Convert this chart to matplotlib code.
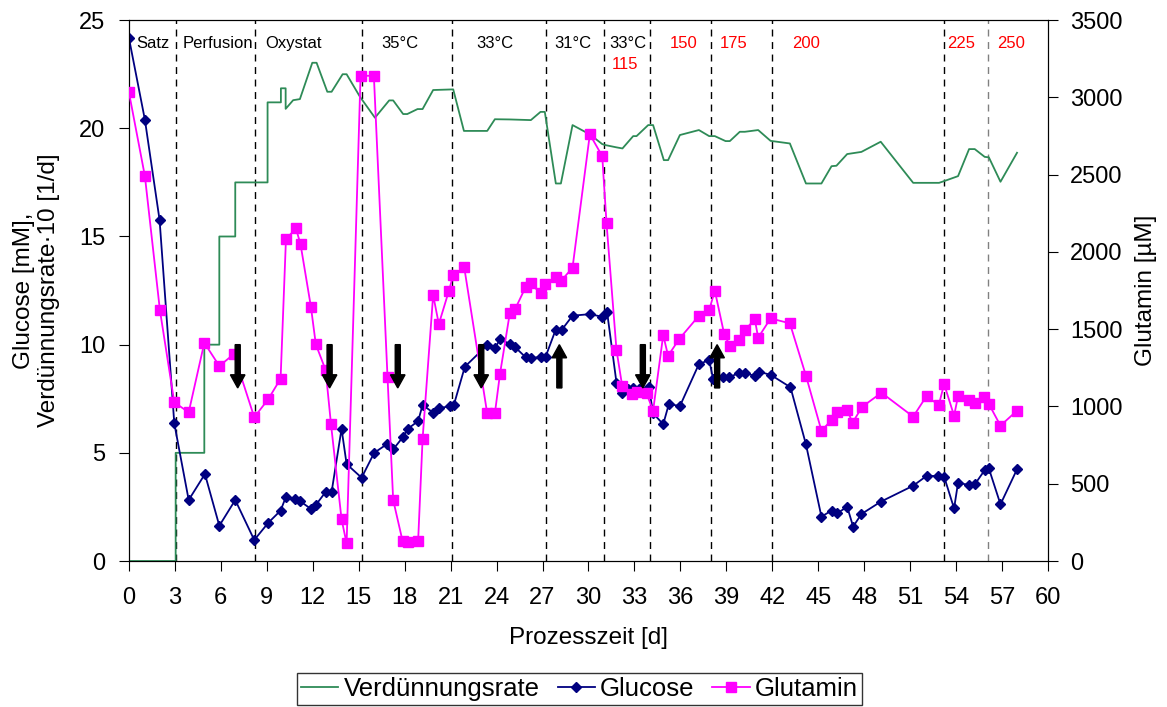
import matplotlib.pyplot as plt

plt.rcParams['font.family'] = ['Liberation Sans', 'DejaVu Sans']

# Verdünnungsrate * 10 [1/d] (left axis), stepwise at the start
rate_t = [0, 3.05, 3.05, 4.92, 4.92, 5.9, 5.9, 6.94, 6.94, 9.05, 9.05, 9.92, 9.92, 10.23, 10.23,
          10.72, 11.16, 11.97, 12.25, 12.95, 13.23, 13.95, 14.21, 15.08, 16.06, 16.99, 17.25,
          17.9, 18.17, 18.84, 19.17, 19.86, 21.17, 21.87, 23.39, 23.89, 24.87, 26.24, 26.87,
          27.15, 27.87, 28.2, 28.96, 30.09, 30.9, 31.14, 31.83, 32.22, 32.92, 33.14, 33.9,
          34.22, 34.92, 35.2, 35.97, 37.21, 37.88, 38.25, 38.95, 39.23, 39.88, 40.21, 41.08,
          41.89, 43.15, 44.2, 45.21, 45.87, 46.19, 46.89, 47.82, 49.08, 51.2, 52.89, 53.22,
          54.13, 54.85, 55.22, 55.87, 56.14, 56.9, 57.98]
rate = [0, 0, 5.0, 5.0, 10.0, 10.0, 15.0, 15.0, 17.5, 17.5, 21.2, 21.2, 21.85, 21.85, 20.9,
        21.3, 21.35, 23.03, 23.03, 21.69, 21.69, 22.5, 22.5, 21.46, 20.49, 21.29, 21.29,
        20.66, 20.66, 20.89, 20.89, 21.77, 21.8, 19.88, 19.88, 20.42, 20.41, 20.38, 20.76,
        20.76, 17.45, 17.45, 20.15, 19.72, 19.27, 19.22, 19.12, 19.07, 19.64, 19.64, 20.15,
        20.15, 18.53, 18.53, 19.69, 19.92, 19.64, 19.64, 19.41, 19.41, 19.84, 19.84, 19.92,
        19.42, 19.3, 17.45, 17.45, 18.25, 18.27, 18.81, 18.91, 19.38, 17.48, 17.48, 17.56,
        17.79, 19.04, 19.04, 18.68, 18.66, 17.53, 18.87]

# Glucose [mM] (left axis)
glc_t = [0, 1.04, 2.0, 2.96, 3.9, 4.96, 5.9, 6.94, 8.18, 9.1, 9.9, 10.25, 10.84, 11.16, 11.86,
         12.2, 12.84, 13.23, 13.88, 14.21, 15.19, 16.01, 16.82, 17.25, 17.9, 18.19, 18.88,
         19.17, 19.86, 20.25, 20.95, 21.21, 21.93, 23.39, 23.89, 24.22, 24.87, 25.2, 25.91,
         26.24, 26.89, 27.2, 27.85, 28.24, 28.96, 30.09, 30.9, 31.22, 31.83, 32.22, 32.59,
         32.92, 33.31, 33.94, 34.22, 34.88, 35.25, 35.97, 37.21, 37.88, 38.14, 38.79, 39.18,
         39.84, 40.21, 40.86, 41.14, 41.91, 43.19, 44.2, 45.21, 45.87, 46.24, 46.89, 47.28,
         47.82, 49.08, 51.2, 52.07, 52.83, 53.22, 53.87, 54.13, 54.85, 55.22, 55.87, 56.14,
         56.9, 57.98]
glc = [24.17, 20.4, 15.76, 6.36, 2.82, 4.02, 1.63, 2.82, 0.97, 1.77, 2.33, 2.97, 2.87, 2.77,
       2.42, 2.59, 3.19, 3.19, 6.11, 4.48, 3.85, 5.0, 5.39, 5.16, 5.74, 6.1, 6.47, 7.21, 6.86,
       7.06, 7.16, 7.21, 8.98, 9.98, 9.83, 10.24, 10.04, 9.89, 9.41, 9.37, 9.44, 9.44, 10.67,
       10.67, 11.34, 11.41, 11.29, 11.49, 8.24, 7.75, 7.93, 8.01, 7.93, 8.06, 6.83, 6.32, 7.26,
       7.16, 9.1, 9.29, 8.41, 8.49, 8.49, 8.7, 8.7, 8.55, 8.75, 8.6, 8.03, 5.39, 2.05, 2.33,
       2.2, 2.51, 1.59, 2.17, 2.74, 3.48, 3.93, 3.93, 3.9, 2.43, 3.62, 3.51, 3.54, 4.2, 4.28,
       2.62, 4.24]

# Glutamin [µM] (right axis)
gln_t = [0, 1.04, 2.02, 2.96, 3.9, 4.92, 5.9, 6.85, 8.18, 9.1, 9.9, 10.25, 10.9, 11.2, 11.88,
         12.2, 12.84, 13.19, 13.88, 14.21, 15.12, 15.99, 16.88, 17.25, 17.86, 18.23, 18.88,
         19.17, 19.86, 20.23, 20.89, 21.17, 21.89, 23.39, 23.89, 24.22, 24.87, 25.2, 25.91,
         26.24, 26.87, 27.15, 27.87, 28.2, 28.96, 30.09, 30.9, 31.18, 31.83, 32.2, 32.81,
         33.14, 33.79, 34.22, 34.88, 35.2, 35.92, 37.21, 37.88, 38.25, 38.86, 39.23, 39.84,
         40.21, 40.86, 41.08, 41.89, 43.15, 44.2, 45.21, 45.87, 46.24, 46.89, 47.24, 47.87,
         49.13, 51.2, 52.07, 52.87, 53.22, 53.87, 54.13, 54.83, 55.22, 55.83, 56.14, 56.9,
         57.98]
gln = [3032, 2491, 1624, 1027, 962, 1412, 1262, 1339, 930, 1048, 1180, 2083, 2152, 2051, 1645,
       1402, 1236, 886, 270, 114, 3140, 3140, 1193, 395, 131, 121, 131, 789, 1721, 1533, 1749,
       1850, 1900, 955, 955, 1208, 1607, 1628, 1775, 1797, 1732, 1790, 1839, 1811, 1898, 2761,
       2620, 2185, 1365, 1134, 1080, 1091, 1085, 972, 1462, 1328, 1436, 1587, 1624, 1749, 1469,
       1393, 1430, 1494, 1564, 1445, 1570, 1538, 1199, 843, 912, 962, 977, 895, 998, 1089, 934,
       1067, 1009, 1145, 940, 1067, 1042, 1024, 1063, 1016, 876, 973]

# phase boundaries and labels
phase_lines = [3.05, 8.2, 15.2, 21.1, 27.2, 31.0, 34.0, 38.0, 42.0, 53.2, 56.1]
phase_labels = ['Satz', 'Perfusion', 'Oxystat', '35°C', '33°C', '31°C', '33°C',
                '115', '150', '175', '200', '225', '250']
label_x = [1.57, 5.78, 10.77, 17.66, 23.91, 29.0, 32.57, 32.41, 36.2, 39.47, 44.19, 54.35, 57.62]
label_y = [23.94] * 7 + [22.97] + [23.94] * 5
label_col = ['black'] * 7 + ['red'] * 6

# arrows (left-axis units: from 10 down to 8, or from 8 up to 10)
arrows_down = [7.1, 13.1, 17.55, 23.0, 33.55]
arrows_up = [28.1, 38.4]

fig = plt.figure(figsize=(11.67, 7.07), dpi=100)
ax = fig.add_axes([0.1105, 0.2065, 0.7875, 0.765])
ax2 = ax.twinx()

fs_tick = 17
fs_lab = 17.5

for i, xv in enumerate(phase_lines):
    col = 'gray' if i == len(phase_lines) - 1 else 'black'
    ax.axvline(xv, color=col, lw=1, ls=(0, (5, 4)), zorder=1)

l1, = ax.plot(rate_t, rate, color='#2E8B57', lw=1.3, zorder=3)
l2, = ax.plot(glc_t, glc, color='#000080', lw=1.3, marker='D', ms=5, zorder=4)
l3, = ax2.plot(gln_t, gln, color='#FF00FF', lw=1.3, marker='s', ms=6.5, zorder=3)

# arrows drawn on the top axes (right-axis units = left * 140)
for xv in arrows_down:
    ax2.arrow(xv, 1400, 0, -280, width=0.33, head_width=0.95, head_length=85,
              length_includes_head=True, color='black', zorder=6)
for xv in arrows_up:
    ax2.arrow(xv, 1120, 0, 280, width=0.33, head_width=0.95, head_length=85,
              length_includes_head=True, color='black', zorder=6)

for txt, xv, yv, c in zip(phase_labels, label_x, label_y, label_col):
    ax.text(xv, yv, txt, color=c, fontsize=12, ha='center', va='center')

ax.set_xlim(0, 60)
ax.set_ylim(0, 25)
ax2.set_ylim(0, 3500)
ax.set_xticks(range(0, 61, 3))
ax.set_yticks(range(0, 26, 5))
ax2.set_yticks(range(0, 3501, 500))
ax.tick_params(axis='x', labelsize=fs_tick, direction='out', length=7, pad=12)
ax.tick_params(axis='y', labelsize=fs_tick, direction='out', length=7, pad=10)
ax2.tick_params(labelsize=fs_tick, direction='out', length=7, pad=9)

ax.set_xlabel('Prozesszeit [d]', fontsize=fs_lab)
ax.set_ylabel('Glucose [mM],\nVerdünnungsrate·10 [1/d]', fontsize=fs_lab)
ax2.set_ylabel('Glutamin [µM]', fontsize=fs_lab)
ax.xaxis.set_label_coords(0.5, -0.122)
ax.yaxis.set_label_coords(-0.075, 0.5)
ax2.yaxis.set_label_coords(1.095, 0.5)

leg = fig.legend([l1, l2, l3], ['Verdünnungsrate', 'Glucose', 'Glutamin'],
                 loc='lower center', bbox_to_anchor=(0.4966, 0.003), ncol=3, fontsize=18.5,
                 frameon=True, fancybox=False, edgecolor='black', handlelength=1.45,
                 handletextpad=0.2, columnspacing=0.7, borderpad=0.15, borderaxespad=0)
leg.get_frame().set_linewidth(1)

fig.savefig('out.png', dpi=100)
